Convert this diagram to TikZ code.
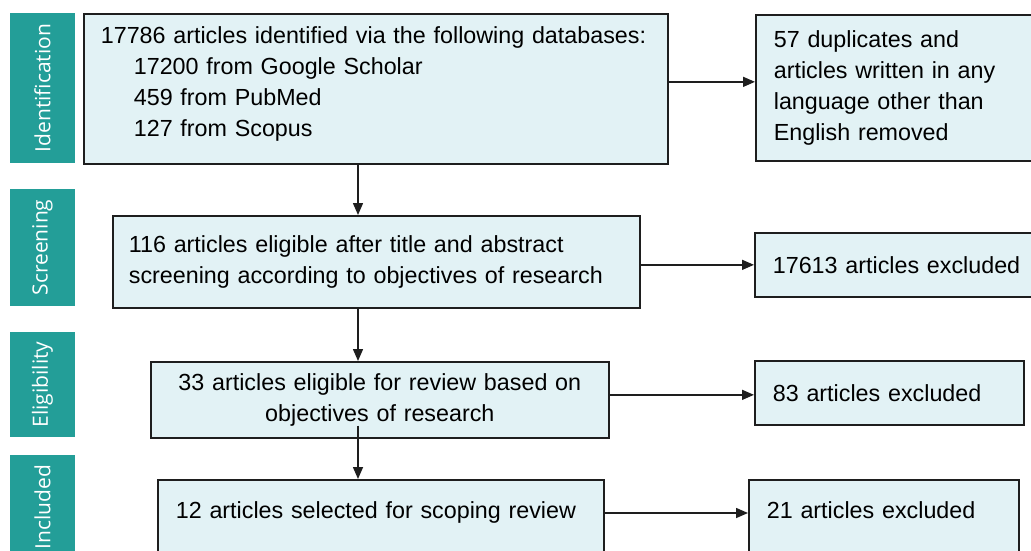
\documentclass[tikz,border=0pt]{standalone}
\usepackage{fontspec}
\setmainfont{Liberation Sans}
\newfontfamily\sidefont{Open Sans}
\usetikzlibrary{arrows.meta}
\definecolor{boxfill}{RGB}{226,242,245}
\definecolor{boxline}{RGB}{30,30,30}
\definecolor{tealbar}{RGB}{35,158,152}
\newcommand{\mainfs}{\fontsize{23.3pt}{31pt}\selectfont}
\newcommand{\sidefs}{\sidefont\fontsize{21pt}{24pt}\selectfont}
\tikzset{
  box/.style={draw=boxline, line width=1.7pt, fill=boxfill, inner ysep=0pt, font=\mainfs, anchor=north west},
  lbox/.style={box, align=left},
  cbox/.style={box, align=center},
  side/.style={fill=tealbar, text=white, font=\sidefs, rotate=90, inner sep=0pt, minimum height=65pt},
  arr/.style={-{Triangle[length=12pt,width=10pt]}, line width=1.5pt, draw=boxline}
}
\begin{document}
\begin{tikzpicture}[x=1pt,y=1pt]
\useasboundingbox (0,0) rectangle (1031,-550);
\clip (0,0) rectangle (1031,-550);
% side bars
\node[side, minimum width=150pt] (sid) at (42.5,-88) {Identification};
\node[side, minimum width=117pt] (sscr) at (42.5,-247.5) {Screening};
\node[side, minimum width=105pt] (selig) at (42.5,-384.5) {Eligibility};
\node[side, minimum width=104pt] (sinc) at (42.5,-507) {Included};
% main boxes
\node[lbox, inner xsep=17pt, text width=550pt, minimum height=150pt] (b1) at (83,-13)
  {17786 articles identified via the following databases:\\
   \hspace*{33pt}17200 from Google Scholar\\
   \hspace*{33pt}459 from PubMed\\
   \hspace*{33pt}127 from Scopus\rule[-13.8pt]{0pt}{0pt}};
\node[lbox, inner xsep=18pt, text width=243pt, minimum height=146pt] (dup) at (755,-14)
  {57 duplicates and\\ articles written in any\\ language other than\\ English removed};
\node[lbox, inner xsep=16pt, text width=495pt, minimum height=92pt] (b2) at (112,-215)
  {116 articles eligible after title and abstract\\ screening according to objectives of research};
\node[lbox, inner xsep=18pt, text width=280pt, minimum height=64pt] (ex1) at (754,-232)
  {17613 articles excluded};
\node[cbox, inner xsep=0pt, text width=458pt, minimum height=76pt] (b3) at (150,-361)
  {33 articles eligible for review based on\\ objectives of research};
\node[lbox, inner xsep=18pt, text width=233pt, minimum height=64pt] (ex2) at (754,-360)
  {83 articles excluded};
\node[lbox, inner xsep=18pt, text width=410pt, minimum height=90pt] (b4) at (157,-479)
  {12 articles selected for scoping review\rule[-30pt]{0pt}{0pt}};
\node[lbox, inner xsep=18pt, text width=234pt, minimum height=90pt] (ex3) at (748,-479)
  {21 articles excluded\rule[-30pt]{0pt}{0pt}};
% connectors
\coordinate (vx) at (358,0);
\draw[arr] (vx |- b1.south) -- (vx |- b2.north);
\draw[arr] (vx |- b2.south) -- (vx |- b3.north);
\draw[arr] ([yshift=13pt]vx |- b3.south) -- (vx |- b4.north);
\draw[arr] ([yshift=7pt]b1.east) -- ([yshift=7pt]b1.east -| dup.west);
\draw[arr] (b2.east |- ex1.west) -- (ex1.west);
\draw[arr] ([yshift=5pt]b3.east) -- ([yshift=5pt]b3.east -| ex2.west);
\coordinate (a4) at (0,-513);
\draw[arr] (a4 -| b4.east) -- (a4 -| ex3.west);
\end{tikzpicture}
\end{document}
